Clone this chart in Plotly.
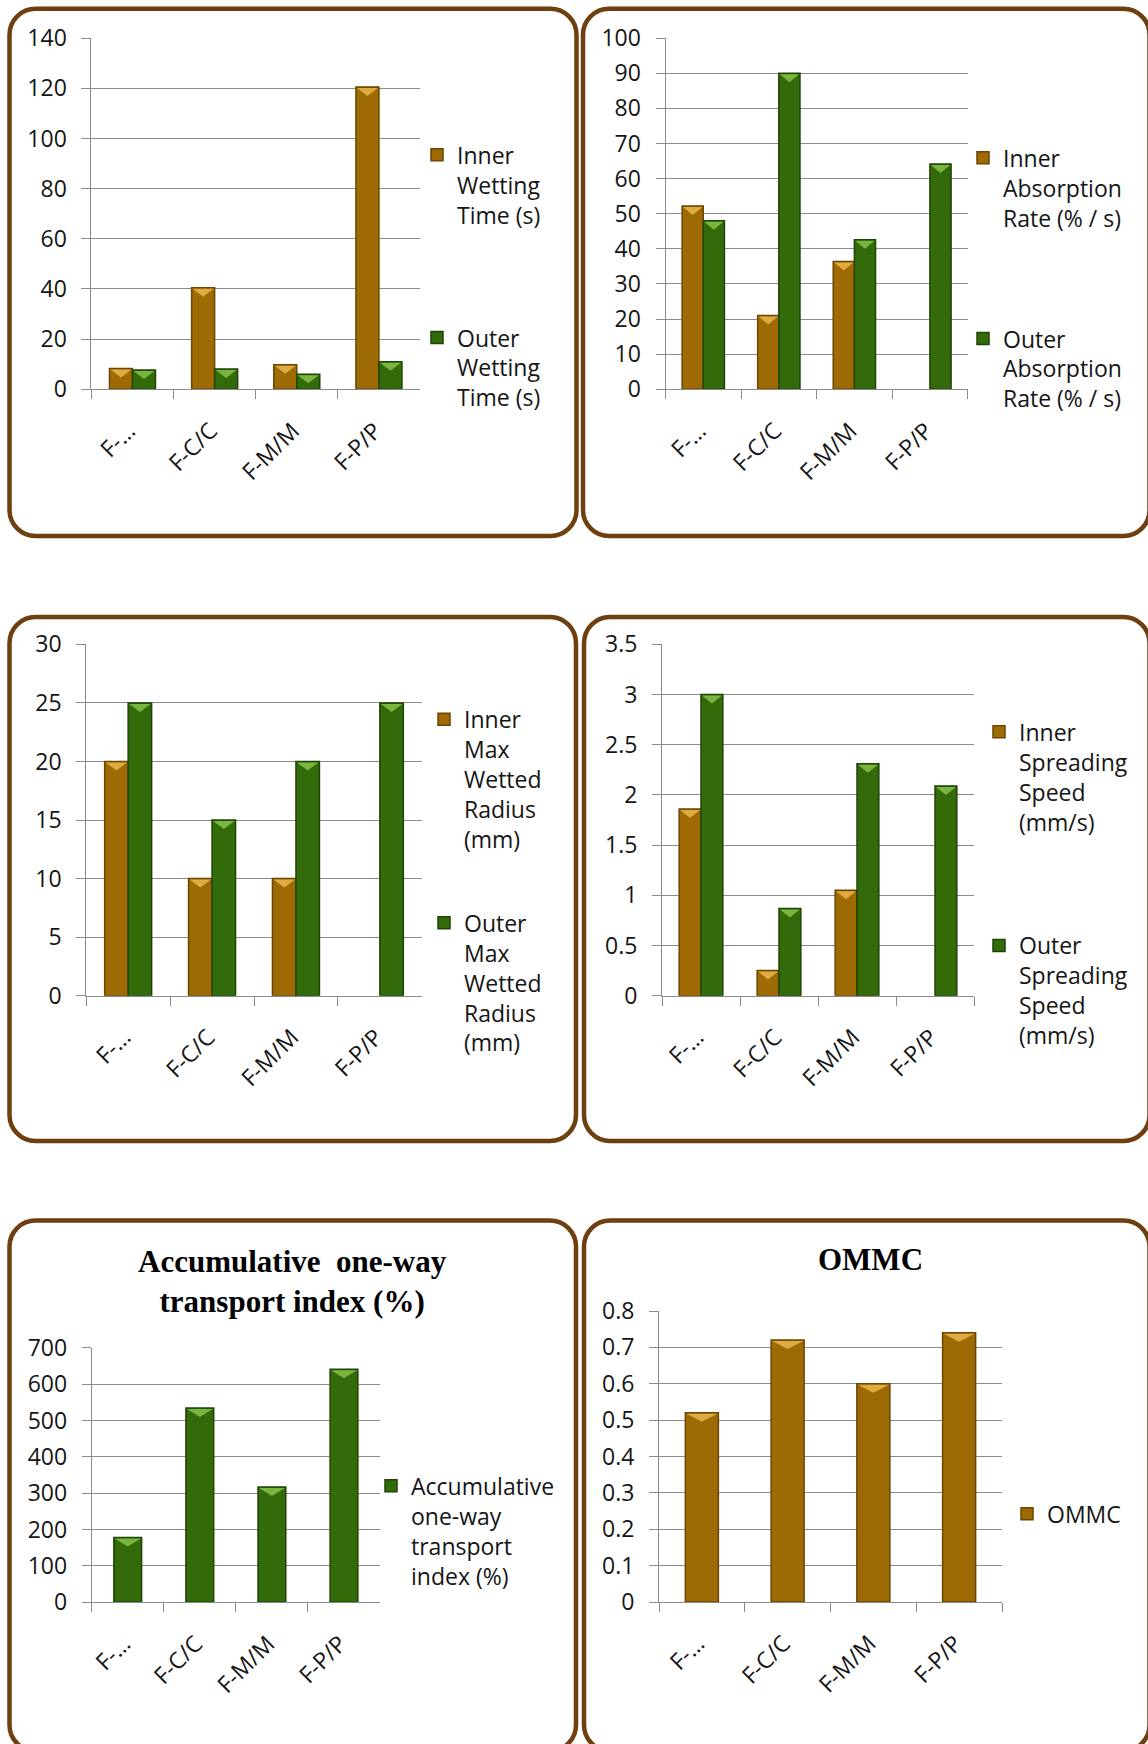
import plotly.graph_objects as go

W, H = 1148, 1744

# ---- data -------------------------------------------------------------
categories = ["F-…", "F-C/C", "F-M/M", "F-P/P"]

inner_wetting_time = [8.3, 40.5, 9.8, 120.5]
outer_wetting_time = [7.7, 8.1, 6.0, 11.0]

inner_absorption_rate = [52.2, 21.0, 36.4, None]
outer_absorption_rate = [48.0, 90.0, 42.6, 64.2]

inner_max_wetted_radius = [20, 10, 10, None]
outer_max_wetted_radius = [25, 15, 20, 25]

inner_spreading_speed = [1.86, 0.25, 1.05, None]
outer_spreading_speed = [3.0, 0.87, 2.31, 2.09]

accumulative_transport_index = [178, 534, 317, 641]
ommc = [0.52, 0.72, 0.60, 0.74]

# ---- styling ----------------------------------------------------------
GOLD = dict(body="#9E6A03", edge="#6A4602", light="#E6B347")
GREEN = dict(body="#336A0A", edge="#1F4406", light="#7FBF45")
GRID = "#8A8A8A"
BORDER = "#6E3F0F"
FONT = "Open Sans"
FS = 23
TXT = "#151515"
BARGAP = 0.44


def px_x(x):
    return x / W


def px_y(y):
    return 1 - y / H


# panel layout in pixels: plot area (left, top, right, bottom), y range, dtick,
# legend (text left, first line centre), gap between legend entries
panels = [
    dict(area=(91.4, 38.2, 420, 389.3), yr=140, dt=20,
         series=[("Inner<br>Wetting<br>Time (s)", inner_wetting_time, GOLD),
                 ("Outer<br>Wetting<br>Time (s)", outer_wetting_time, GREEN)],
         leg=(457, 158), gap=90),
    dict(area=(665.5, 38.2, 967.7, 389.3), yr=100, dt=10,
         series=[("Inner<br>Absorption<br>Rate (% / s)", inner_absorption_rate, GOLD),
                 ("Outer<br>Absorption<br>Rate (% / s)", outer_absorption_rate, GREEN)],
         leg=(1003, 161), gap=88),
    dict(area=(86.2, 644.4, 421.8, 995.7), yr=30, dt=5,
         series=[("Inner<br>Max<br>Wetted<br>Radius<br>(mm)", inner_max_wetted_radius, GOLD),
                 ("Outer<br>Max<br>Wetted<br>Radius<br>(mm)", outer_max_wetted_radius, GREEN)],
         leg=(464, 722.5), gap=51),
    dict(area=(662, 644.4, 974, 995.7), yr=3.5, dt=0.5,
         series=[("Inner<br>Spreading<br>Speed<br>(mm/s)", inner_spreading_speed, GOLD),
                 ("Outer<br>Spreading<br>Speed<br>(mm/s)", outer_spreading_speed, GREEN)],
         leg=(1019, 735), gap=91),
    dict(area=(91.7, 1347.7, 380, 1602.3), yr=700, dt=100,
         series=[("Accumulative<br>one-way<br>transport<br>index (%)",
                  accumulative_transport_index, GREEN)],
         leg=(411, 1489), gap=10),
    dict(area=(659, 1311, 1002, 1602), yr=0.8, dt=0.1,
         series=[("OMMC", ommc, GOLD)],
         leg=(1047, 1517), gap=10),
]

SINGLE_WIDTH = 0.385

fig = go.Figure()
layout = dict(
    width=W, height=H,
    margin=dict(l=0, r=0, t=0, b=0, autoexpand=False),
    paper_bgcolor="white", plot_bgcolor="white",
    barmode="group", bargap=BARGAP, bargroupgap=0,
    showlegend=True,
    font=dict(family=FONT, size=FS, color=TXT),
)
shapes = []

for i, p in enumerate(panels, start=1):
    sfx = "" if i == 1 else str(i)
    x0, y0, x1, y1 = p["area"]
    legname = "legend" if i == 1 else f"legend{i}"
    n = len(p["series"])
    bw = SINGLE_WIDTH if n == 1 else (1 - BARGAP) / n
    for j, (name, vals, pal) in enumerate(p["series"]):
        fig.add_trace(go.Bar(
            x=categories, y=vals, name=name,
            xaxis=f"x{sfx}", yaxis=f"y{sfx}",
            marker=dict(color=pal["body"], line=dict(color=pal["edge"], width=1.5)),
            width=SINGLE_WIDTH if n == 1 else None,
            legend=legname, legendgroup=f"p{i}s{j}",
        ))
        # bevelled top: a light chevron hanging from each bar top
        offset = 0 if n == 1 else (j - (n - 1) / 2) * bw
        for k, v in enumerate(vals):
            if v is None:
                continue
            xc = k + offset
            xl, xr = xc - bw / 2 + 0.012, xc + bw / 2 - 0.012
            shapes.append(dict(
                type="path", xref=f"x{sfx}", yref=f"y{sfx}",
                ysizemode="pixel", yanchor=v,
                path=f"M{xl},-1 L{xr},-1 L{xc},-9 Z",
                fillcolor=pal["light"], line=dict(width=0), layer="above", opacity=0.9,
            ))
    layout[f"xaxis{sfx}"] = dict(
        domain=[px_x(x0), px_x(x1)], anchor=f"y{sfx}", type="category",
        showline=True, linecolor=GRID, linewidth=1,
        ticks="outside", tickson="boundaries", ticklen=9, tickcolor=GRID,
        showgrid=False, tickangle=-45, ticklabelstandoff=18, ticklabelshift=-4,
        tickfont=dict(family=FONT, size=FS, color=TXT),
    )
    layout[f"yaxis{sfx}"] = dict(
        domain=[px_y(y1), px_y(y0)], anchor=f"x{sfx}",
        range=[0, p["yr"]], dtick=p["dt"], tick0=0,
        showline=True, linecolor=GRID, linewidth=1,
        showgrid=True, gridcolor=GRID, gridwidth=1, zeroline=False,
        ticks="outside", ticklen=9, tickcolor=GRID, ticklabelstandoff=10,
        tickfont=dict(family=FONT, size=FS, color=TXT),
    )
    tx, ty = p["leg"]
    layout[legname] = dict(
        x=px_x(tx - 40), y=px_y(ty - 24.6), xanchor="left", yanchor="top",
        bgcolor="rgba(0,0,0,0)", borderwidth=0,
        font=dict(family=FONT, size=FS, color=TXT),
        valign="top", traceorder="grouped", tracegroupgap=p["gap"],
    )

fig.update_layout(**layout)


# ---- rounded panel frames -------------------------------------------
def rounded_frame(x0, y0, x1, y1, r=26):
    k = 0.552 * r

    def P(x, y):
        return f"{px_x(x):.6f},{px_y(y):.6f}"

    return (f"M{P(x0 + r, y0)} L{P(x1 - r, y0)} "
            f"C{P(x1 - r + k, y0)} {P(x1, y0 + r - k)} {P(x1, y0 + r)} "
            f"L{P(x1, y1 - r)} "
            f"C{P(x1, y1 - r + k)} {P(x1 - r + k, y1)} {P(x1 - r, y1)} "
            f"L{P(x0 + r, y1)} "
            f"C{P(x0 + r - k, y1)} {P(x0, y1 - r + k)} {P(x0, y1 - r)} "
            f"L{P(x0, y0 + r)} "
            f"C{P(x0, y0 + r - k)} {P(x0 + r - k, y0)} {P(x0 + r, y0)} Z")


frames = [
    (9.5, 8.7, 576.5, 536),
    (583, 8.7, 1149.5, 536),
    (9.5, 617, 576, 1141),
    (584, 617, 1149.5, 1141),
    (9.5, 1220.5, 576, 1751),
    (584, 1220.5, 1149.5, 1751),
]
for f in frames:
    shapes.append(dict(type="path", path=rounded_frame(*f), xref="paper", yref="paper",
                       line=dict(color=BORDER, width=4.5), layer="above"))

fig.update_layout(shapes=shapes)

# ---- chart titles -------------------------------------------------------
TITLE_FONT = dict(family="Liberation Serif", size=31, color="black")
fig.add_annotation(text="<b>Accumulative\u00a0 one-way<br>transport index (%)</b>",
                   x=px_x(292.6), y=px_y(1281), xref="paper", yref="paper",
                   xanchor="center", yanchor="middle", showarrow=False, font=TITLE_FONT)
fig.add_annotation(text="<b>OMMC</b>",
                   x=px_x(870), y=px_y(1259), xref="paper", yref="paper",
                   xanchor="center", yanchor="middle", showarrow=False, font=TITLE_FONT)

fig.write_html("out.html")
